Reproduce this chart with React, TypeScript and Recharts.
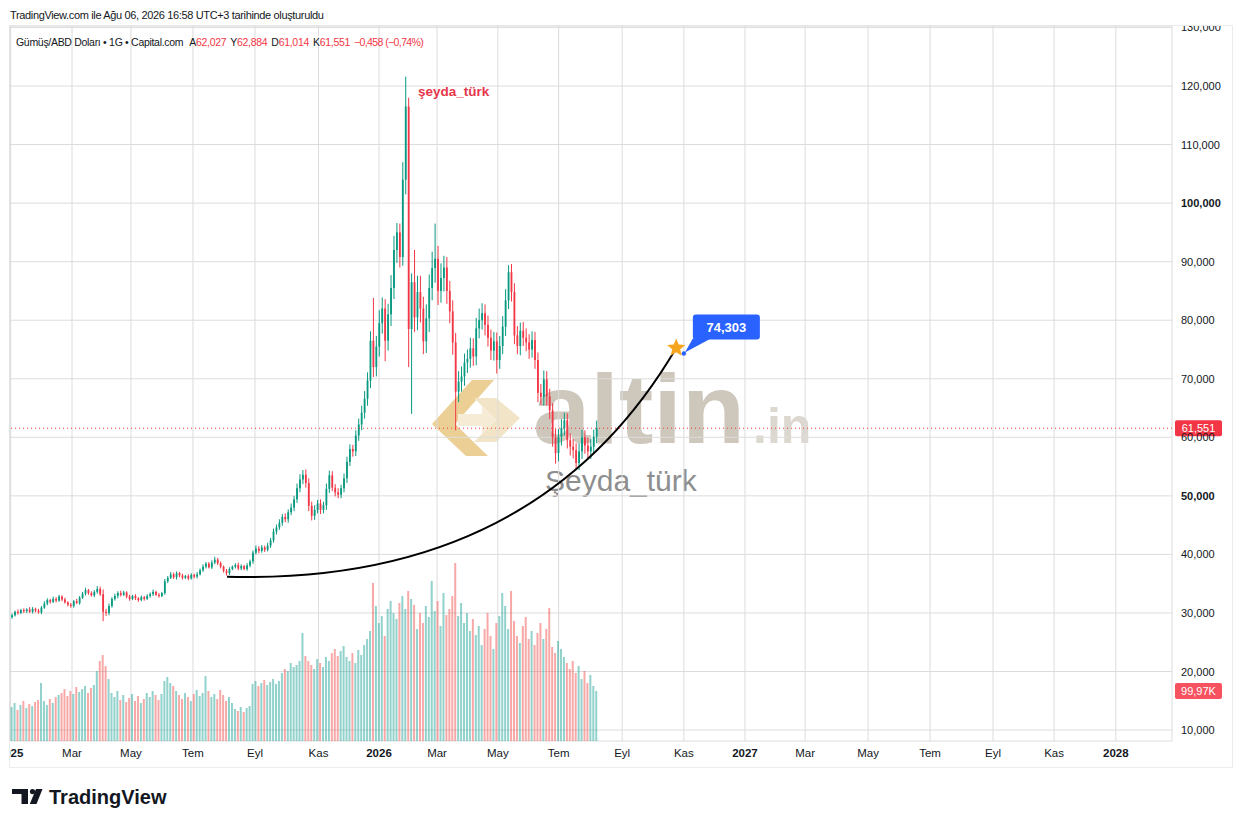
import React from 'react';
import { ComposedChart, Bar, Line, XAxis, YAxis, CartesianGrid, ReferenceLine, ReferenceDot } from 'recharts';

// ---- data (1 candle ≈ 2 trading days) ----
const FIRST_OPEN = 29.3;
const CANDLES_PER_MONTH = 10.45;

const CLOSES = [
  29.6,30.2,30.0,30.5,30.3,30.6,30.2,30.7,30.4,30.1,
  30.9,31.6,32.2,31.9,32.4,32.1,32.8,32.3,31.8,31.4,
  31.2,32.0,31.7,32.6,33.3,33.9,33.4,33.0,33.6,34.1,
  33.2,30.2,30.0,31.2,32.4,32.9,33.4,33.1,33.5,32.8,
  32.4,32.9,32.5,32.2,32.7,32.4,32.9,33.2,33.6,33.1,
  32.9,33.4,35.4,36.0,36.6,36.1,36.8,36.4,36.0,36.3,
  35.9,36.5,36.2,36.6,37.3,37.9,38.4,37.8,38.6,39.1,
  38.5,37.9,37.2,36.8,37.5,37.9,38.2,37.6,38.0,37.5,
  38.1,38.8,40.3,41.0,40.6,41.2,40.8,41.5,42.4,43.9,
  44.6,45.4,46.4,46.0,47.2,48.0,49.4,51.3,52.8,53.6,
  52.2,48.3,46.6,47.6,48.7,47.6,48.4,51.2,53.5,51.4,
  50.6,50.2,51.3,53.0,55.8,58.0,57.6,60.3,62.2,64.2,
  66.6,69.7,76.5,72.0,75.5,79.5,82.0,76.5,81.0,85.5,
  92.0,95.0,90.8,104.0,116.5,78.5,86.5,80.5,84.8,82.0,
  76.4,80.3,85.5,88.9,90.5,85.0,87.2,89.0,85.0,81.5,
  76.2,67.8,69.5,70.4,72.8,73.4,75.2,73.8,78.6,80.0,
  81.2,79.2,77.0,74.8,76.4,73.2,75.6,78.9,83.4,88.2,
  84.8,77.4,75.6,78.2,77.0,76.2,75.0,76.6,73.2,67.6,
  66.9,69.9,67.0,64.6,60.0,57.3,60.1,61.6,62.9,59.5,
  58.4,57.8,55.6,57.6,60.0,58.6,57.6,58.4,60.1,61.551,
];

const WICK_UP = [
  0.3,0.2,0.4,0.2,0.3,0.2,0.4,0.3,0.2,0.3,
  0.3,0.4,0.3,0.2,0.4,0.3,0.3,0.2,0.3,0.2,
  0.3,0.2,0.4,0.3,0.3,0.4,0.2,0.3,0.3,0.5,
  0.4,0.8,0.5,0.4,0.3,0.4,0.3,0.4,0.3,0.2,
  0.3,0.2,0.3,0.2,0.3,0.2,0.3,0.3,0.4,0.2,
  0.3,0.2,0.4,0.3,0.4,0.3,0.3,0.2,0.3,0.2,
  0.3,0.3,0.2,0.4,0.3,0.4,0.3,0.3,0.4,0.5,
  0.3,0.3,0.2,0.3,0.3,0.2,0.3,0.4,0.3,0.2,
  0.4,0.3,0.4,0.5,0.4,0.4,0.3,0.5,0.4,0.5,
  0.5,0.6,0.5,0.6,0.5,0.7,0.6,0.8,0.9,0.8,
  0.9,0.8,0.7,0.8,0.6,0.7,0.6,0.9,0.8,0.7,
  0.6,0.7,0.6,0.8,0.9,0.8,0.7,0.9,1.0,1.2,
  1.3,1.4,1.6,7.3,1.8,2.2,1.9,1.6,1.8,2.2,
  2.4,1.6,1.5,3.0,5.1,1.5,1.5,5.5,2.8,2.8,
  2.0,2.4,2.3,2.8,6.0,2.2,2.5,2.0,1.8,1.7,
  1.9,1.6,1.8,1.7,1.5,1.6,1.8,1.7,1.8,2.0,
  1.7,1.5,1.6,1.4,1.6,1.5,1.7,1.8,1.9,1.2,
  1.4,1.5,1.6,1.4,1.5,1.6,1.4,1.5,1.4,1.3,
  1.5,1.5,1.4,1.3,1.2,1.4,1.3,1.5,1.3,1.2,
  1.2,1.3,1.2,1.4,1.3,1.2,1.4,1.3,1.2,1.3,
];

const WICK_DOWN = [
  0.3,0.2,0.3,0.2,0.3,0.3,0.2,0.3,0.3,0.2,
  0.3,0.2,0.3,0.3,0.2,0.3,0.2,0.3,0.2,0.3,
  0.3,0.3,0.2,0.3,0.2,0.3,0.3,0.2,0.3,0.3,
  0.3,1.6,0.5,0.4,0.3,0.3,0.4,0.3,0.2,0.3,
  0.3,0.2,0.3,0.3,0.2,0.3,0.2,0.3,0.3,0.2,
  0.3,0.2,0.3,0.3,0.2,0.3,0.4,0.3,0.3,0.2,
  0.3,0.2,0.3,0.3,0.2,0.3,0.3,0.2,0.3,0.3,
  0.3,0.3,0.3,0.4,0.3,0.2,0.3,0.3,0.3,0.2,
  0.3,0.3,0.4,0.3,0.4,0.3,0.4,0.3,0.4,0.4,
  0.5,0.4,0.5,0.5,0.6,0.5,0.6,0.6,0.7,0.8,
  0.8,0.9,0.8,0.7,0.6,0.7,0.6,0.8,0.7,0.6,
  0.7,0.6,0.6,0.7,0.8,0.7,0.9,0.8,0.9,1.0,
  1.0,1.2,1.3,1.7,1.6,1.7,1.8,3.5,1.7,2.0,
  1.9,2.2,1.8,1.5,2.5,6.5,14.5,2.5,2.2,2.4,
  2.2,2.0,2.3,2.1,2.5,2.4,2.0,2.3,2.2,2.0,
  2.1,6.6,1.8,1.7,1.6,1.8,1.5,1.6,1.5,1.7,
  1.6,1.8,1.5,1.6,1.7,2.3,1.5,1.4,1.6,1.5,
  1.6,1.5,1.4,1.6,1.4,1.5,1.6,1.4,1.5,1.6,
  1.4,1.5,1.6,1.5,1.6,1.8,1.4,1.5,1.3,1.4,
  1.5,1.4,1.1,1.2,1.3,1.4,1.2,1.3,1.2,1.1,
];

// volume in thousands
const VOLUMES = [
  68,76,62,72,80,66,74,70,78,82,
  116,80,72,84,76,88,92,96,104,90,
  100,94,108,98,104,110,96,106,112,140,
  160,172,150,124,96,88,100,82,92,78,
  86,94,80,90,76,84,96,88,100,92,
  82,94,120,128,116,110,100,92,84,96,
  88,80,94,102,90,96,130,100,88,94,
  84,102,92,80,88,76,64,60,68,58,
  66,70,114,120,110,116,122,112,118,124,
  114,120,136,144,140,156,148,152,160,216,
  170,160,152,144,164,156,148,168,160,176,
  184,170,180,190,168,160,176,156,182,172,
  192,204,220,316,270,236,250,210,264,280,
  256,244,276,290,264,300,284,272,224,256,
  236,270,248,320,260,280,230,296,252,264,
  290,356,250,276,236,256,220,244,212,230,
  192,224,256,210,184,236,250,296,270,224,
  300,240,210,196,230,248,204,220,192,216,
  236,204,224,266,188,176,200,184,168,156,
  144,160,136,150,124,140,116,132,110,99.97,
];

// hand-drawn curve drawing: start, control point, end (months since Jan 2025, price)
const CURVE_T = [7.05, 17.15, 21.68];
const CURVE_P = [36.19, 34.77, 75.26];

const X_TICKS = [0, 2.0, 3.92, 5.94, 7.96, 10.03, 12.0, 13.89, 15.87, 17.85, 19.92, 21.93, 23.92, 25.88, 27.93, 29.95, 32.0, 33.99, 36.0];
const X_LABELS = ['2025','Mar','May','Tem','Eyl','Kas','2026','Mar','May','Tem','Eyl','Kas','2027','Mar','May','Tem','Eyl','Kas','2028'];
const Y_TICKS = [10, 20, 30, 40, 50, 60, 70, 80, 90, 100, 110, 120, 130];
const Y_BOLD = [50, 100];

const LAST_PRICE = 61.551;
const LAST_PRICE_LABEL = '61,551';
const LAST_VOL = 99.97;
const LAST_VOL_LABEL = '99,97K';
const TARGET_T = 21.93;
const TARGET_P = 74.303;
const TARGET_LABEL = '74,303';
const STAR_T = 21.68;
const STAR_P = 75.26;

const UP = '#089981';
const DOWN = '#f23645';
const FONT = "'Liberation Sans', Arial, sans-serif";

const data = CLOSES.map((c, i) => {
  const o = i === 0 ? FIRST_OPEN : CLOSES[i - 1];
  const h = Math.max(o, c) + WICK_UP[i];
  const l = Math.min(o, c) - WICK_DOWN[i];
  return { t: (i + 0.5) / CANDLES_PER_MONTH, o, h, l, c, range: [l, h], vol: VOLUMES[i], up: c >= o };
});

const curveData = CURVE_T.map((t, i) => ({ t, curve: CURVE_P[i] }));

// quadratic Bézier curve factory (start, control, end) for the Line
const quadCurve: any = (context: any) => {
  let pts: [number, number][] = [];
  return {
    areaStart() {},
    areaEnd() {},
    lineStart() { pts = []; },
    lineEnd() {
      if (pts.length === 3) {
        context.moveTo(pts[0][0], pts[0][1]);
        context.quadraticCurveTo(pts[1][0], pts[1][1], pts[2][0], pts[2][1]);
      } else if (pts.length) {
        context.moveTo(pts[0][0], pts[0][1]);
        for (let k = 1; k < pts.length; k++) context.lineTo(pts[k][0], pts[k][1]);
      }
    },
    point(x: number, y: number) { pts.push([+x, +y]); },
  };
};

const Candle = (props: any) => {
  const { x, y, width, height, payload } = props;
  if (!payload || x == null || y == null) return null;
  const top = Math.min(y, y + height);
  const bot = Math.max(y, y + height);
  const { o, c, h, l } = payload;
  const span = h - l || 1;
  const yOf = (v: number) => top + ((h - v) / span) * (bot - top);
  const cx = x + width / 2;
  const color = payload.up ? UP : DOWN;
  const yo = yOf(o);
  const yc = yOf(c);
  const bt = Math.min(yo, yc);
  const bh = Math.max(1, Math.abs(yo - yc));
  return (
    <g>
      <line x1={cx} x2={cx} y1={top} y2={bot} stroke={color} strokeWidth={1} />
      <rect x={cx - 0.9} y={bt} width={1.8} height={bh} fill={color} />
    </g>
  );
};

const VolBar = (props: any) => {
  const { x, y, width, height, payload } = props;
  if (!payload || x == null) return null;
  const top = Math.min(y, y + height);
  const hh = Math.abs(height);
  return <rect x={x} y={top} width={width} height={hh} fill={payload.up ? 'rgba(38,166,154,0.5)' : 'rgba(239,83,80,0.5)'} />;
};

const XTick = (props: any) => {
  const { x, payload } = props;
  const idx = X_TICKS.indexOf(payload.value);
  const label = X_LABELS[idx] ?? '';
  const bold = /^\d{4}$/.test(label);
  return (
    <svg x={10} y={741} width={1162} height={26} overflow="hidden">
      <text x={x - 10} y={11.5} textAnchor="middle" dominantBaseline="central" fontSize={11.5} fontWeight={bold ? 700 : 400} fill="#131722" fontFamily={FONT}>
        {label}
      </text>
    </svg>
  );
};

const YTick = (props: any) => {
  const { y, payload } = props;
  const v = payload.value;
  const bold = Y_BOLD.includes(v);
  return (
    <svg x={1172} y={26} width={70} height={741} overflow="hidden">
      <text x={9} y={y - 26} dominantBaseline="central" fontSize={11} fontWeight={bold ? 700 : 400} fill="#131722" fontFamily={FONT}>
        {`${v},000`}
      </text>
    </svg>
  );
};

const Tag = (props: any) => {
  const { viewBox, text, fill } = props;
  if (!viewBox) return null;
  const x = viewBox.x + viewBox.width + 3;
  const y = viewBox.y;
  return (
    <g>
      <rect x={x} y={y - 8} width={47} height={16} rx={2} fill={fill} />
      <text x={x + 23.5} y={y} textAnchor="middle" dominantBaseline="central" fontSize={11} fill="#fff" fontFamily={FONT}>{text}</text>
    </g>
  );
};

const StarShape = (props: any) => {
  const { cx, cy } = props;
  if (cx == null) return null;
  const pts: string[] = [];
  for (let k = 0; k < 10; k++) {
    const r = k % 2 === 0 ? 9.5 : 4.2;
    const a = -Math.PI / 2 + (k * Math.PI) / 5;
    pts.push(`${cx + r * Math.cos(a)},${cy + r * Math.sin(a)}`);
  }
  return <polygon points={pts.join(' ')} fill="#f7a51f" />;
};

const Callout = (props: any) => {
  const { cx, cy } = props;
  if (cx == null) return null;
  const bx = cx + 9;
  const by = cy - 39;
  return (
    <g>
      <polygon points={`${cx + 1},${cy - 1} ${bx},${by + 24} ${bx + 18},${by + 24}`} fill="#2962ff" />
      <rect x={bx} y={by} width={67} height={25} rx={3} fill="#2962ff" />
      <circle cx={cx} cy={cy} r={2.2} fill="#2962ff" />
      <text x={bx + 33.5} y={by + 12.5} textAnchor="middle" dominantBaseline="central" fontSize={13} fontWeight={700} fill="#fff" fontFamily={FONT}>{TARGET_LABEL}</text>
    </g>
  );
};

const red = '#f23645';

export default function App() {
  return (
    <div style={{ position: 'absolute', left: 0, top: 0, width: 1242, height: 827, background: '#fff', fontFamily: FONT, color: '#131722', overflow: 'hidden' }}>
      {/* header */}
      <div style={{ position: 'absolute', left: 10, top: 8, fontSize: 11, lineHeight: '14px', whiteSpace: 'nowrap', letterSpacing: '-0.35px' }}>
        TradingView.com ile Ağu 06, 2026 16:58 UTC+3 tarihinde oluşturuldu
      </div>
      {/* panel border */}
      <div style={{ position: 'absolute', left: 9, top: 25, width: 1222, height: 741, border: '1px solid #ececec' }} />
      {/* watermark (behind chart) */}
      <svg style={{ position: 'absolute', left: 0, top: 0 }} width={1242} height={827}>
        <g transform="translate(430,376)" opacity={0.75}>
          <polygon points="2,48 42,4 64,4 25,48 58,80 36,80" fill="#e6bf72" />
          <polygon points="44,22 66,22 90,42 66,66 44,66 66,44" fill="#eedcb4" />
          <polygon points="28,38 52,38 52,30 66,44 52,58 52,50 28,50" fill="#f3e6c9" />
        </g>
        <text x={533} y={443} fontSize={98} fontWeight={700} fill="#cdc7bc" textLength={212} lengthAdjust="spacingAndGlyphs" fontFamily={FONT}>altin</text>
        <text x={753} y={443} fontSize={50} fontWeight={700} fill="#dcd8d0" fontFamily={FONT}>.in</text>
        <text x={545} y={491} fontSize={30} fill="#8e8e8e" fontFamily={FONT}>Şeyda_türk</text>
      </svg>
      <div style={{ position: 'absolute', left: 0, top: 0 }}>
        <ComposedChart width={1242} height={827} data={data} margin={{ top: 26, right: 10, bottom: 60, left: 10 }}>
          <XAxis xAxisId="x" dataKey="t" type="number" domain={[-0.02, 37.83]} ticks={X_TICKS} interval={0} tick={<XTick />} axisLine={false} tickLine={false} height={26} allowDataOverflow />
          <XAxis xAxisId="xv" dataKey="t" type="number" domain={[-0.02, 37.83]} hide allowDataOverflow />
          <YAxis yAxisId="p" orientation="right" type="number" domain={[8.13, 130.25]} ticks={Y_TICKS} interval={0} tick={<YTick />} axisLine={false} tickLine={false} width={60} allowDataOverflow />
          <YAxis yAxisId="vol" type="number" domain={[0, 1430]} hide allowDataOverflow />
          <CartesianGrid xAxisId="x" yAxisId="p" stroke="#dcdcdc" />
          <Bar xAxisId="xv" yAxisId="vol" dataKey="vol" barSize={2} shape={VolBar} isAnimationActive={false} />
          <Bar xAxisId="x" yAxisId="p" dataKey="range" barSize={2} shape={Candle} isAnimationActive={false} />
          <Line xAxisId="x" yAxisId="p" data={curveData} dataKey="curve" type={quadCurve} stroke="#000" strokeWidth={2} dot={false} activeDot={false} isAnimationActive={false} />
          <ReferenceLine xAxisId="x" yAxisId="p" y={LAST_PRICE} stroke={red} strokeDasharray="1 3" label={<Tag text={LAST_PRICE_LABEL} fill={red} />} />
          <ReferenceLine xAxisId="xv" yAxisId="vol" y={LAST_VOL} stroke="none" label={<Tag text={LAST_VOL_LABEL} fill="#f7525f" />} />
          <ReferenceDot xAxisId="x" yAxisId="p" x={STAR_T} y={STAR_P} r={9} shape={StarShape} />
          <ReferenceDot xAxisId="x" yAxisId="p" x={TARGET_T} y={TARGET_P} r={2} shape={Callout} />
        </ComposedChart>
      </div>
      {/* legend */}
      <div style={{ position: 'absolute', left: 16, top: 35, fontSize: 10.5, lineHeight: '14px', whiteSpace: 'nowrap', letterSpacing: '-0.3px' }}>
        <span>Gümüş/ABD Doları • 1G • Capital.com</span>
        <span style={{ marginLeft: 6 }}>A</span><span style={{ color: red }}>62,027</span>
        <span style={{ marginLeft: 4 }}>Y</span><span style={{ color: red }}>62,884</span>
        <span style={{ marginLeft: 4 }}>D</span><span style={{ color: red }}>61,014</span>
        <span style={{ marginLeft: 4 }}>K</span><span style={{ color: red }}>61,551</span>
        <span style={{ marginLeft: 4, color: red, letterSpacing: '-0.6px' }}>−0,458 (−0,74%)</span>
      </div>
      {/* overlay annotations */}
      <svg style={{ position: 'absolute', left: 0, top: 0, pointerEvents: 'none' }} width={1242} height={827}>
        <text x={418} y={96} fontSize={13.5} fontWeight={700} fill="#e5364a" fontFamily={FONT}>şeyda_türk</text>
        <g fill="#131722">
          <rect x={12} y={789} width={16} height={5} />
          <rect x={21.5} y={789} width={6.5} height={15} />
          <circle cx={32.5} cy={791.6} r={2.6} />
          <polygon points="36,789 42.5,789 36.5,804 29.8,804" />
        </g>
        <text x={49} y={804} fontSize={20} fontWeight={700} fill="#131722" fontFamily={FONT}>TradingView</text>
      </svg>
    </div>
  );
}
